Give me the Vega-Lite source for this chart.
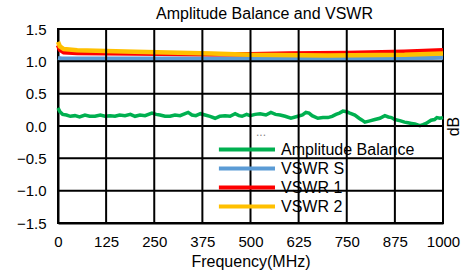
{
  "$schema": "https://vega.github.io/schema/vega-lite/v6.json",
  "width": 385,
  "height": 194,
  "autosize": {"type": "none"},
  "padding": {"left": 58, "top": 29, "right": 32, "bottom": 54},
  "background": "white",
  "config": {
    "font": "Liberation Sans",
    "view": {"stroke": "black", "strokeWidth": 2},
    "axis": {"domainColor": "black", "domainWidth": 2, "tickSize": 0, "labelFontSize": 15, "labelColor": "black", "titleFontSize": 16, "titleColor": "black", "titleFontWeight": "normal"}
  },
  "title": {"text": "Amplitude Balance and VSWR", "fontSize": 16, "fontWeight": "normal", "color": "black", "dx": 14, "offset": 0},
  "datasets": {
    "grid": [
      {"f": 125, "v": -1.5, "k": "x1"}, {"f": 125, "v": 1.5, "k": "x1"},
      {"f": 250, "v": -1.5, "k": "x2"}, {"f": 250, "v": 1.5, "k": "x2"},
      {"f": 375, "v": -1.5, "k": "x3"}, {"f": 375, "v": 1.5, "k": "x3"},
      {"f": 500, "v": -1.5, "k": "x4"}, {"f": 500, "v": 1.5, "k": "x4"},
      {"f": 625, "v": -1.5, "k": "x5"}, {"f": 625, "v": 1.5, "k": "x5"},
      {"f": 750, "v": -1.5, "k": "x6"}, {"f": 750, "v": 1.5, "k": "x6"},
      {"f": 875, "v": -1.5, "k": "x7"}, {"f": 875, "v": 1.5, "k": "x7"},
      {"f": 0, "v": -1, "k": "y1"}, {"f": 1000, "v": -1, "k": "y1"},
      {"f": 0, "v": -0.5, "k": "y2"}, {"f": 1000, "v": -0.5, "k": "y2"},
      {"f": 0, "v": 0, "k": "y3"}, {"f": 1000, "v": 0, "k": "y3"},
      {"f": 0, "v": 0.5, "k": "y4"}, {"f": 1000, "v": 0.5, "k": "y4"},
      {"f": 0, "v": 1, "k": "y5"}, {"f": 1000, "v": 1, "k": "y5"}
    ]
  },
  "data": {"values": [
    {"f": 0, "v": 0.28, "s": "Amplitude Balance"},
    {"f": 5, "v": 0.22, "s": "Amplitude Balance"},
    {"f": 12, "v": 0.18, "s": "Amplitude Balance"},
    {"f": 22, "v": 0.17, "s": "Amplitude Balance"},
    {"f": 32, "v": 0.15, "s": "Amplitude Balance"},
    {"f": 44, "v": 0.16, "s": "Amplitude Balance"},
    {"f": 56, "v": 0.14, "s": "Amplitude Balance"},
    {"f": 70, "v": 0.17, "s": "Amplitude Balance"},
    {"f": 82, "v": 0.15, "s": "Amplitude Balance"},
    {"f": 96, "v": 0.15, "s": "Amplitude Balance"},
    {"f": 110, "v": 0.17, "s": "Amplitude Balance"},
    {"f": 122, "v": 0.15, "s": "Amplitude Balance"},
    {"f": 135, "v": 0.16, "s": "Amplitude Balance"},
    {"f": 148, "v": 0.15, "s": "Amplitude Balance"},
    {"f": 160, "v": 0.17, "s": "Amplitude Balance"},
    {"f": 174, "v": 0.16, "s": "Amplitude Balance"},
    {"f": 188, "v": 0.18, "s": "Amplitude Balance"},
    {"f": 200, "v": 0.15, "s": "Amplitude Balance"},
    {"f": 213, "v": 0.17, "s": "Amplitude Balance"},
    {"f": 226, "v": 0.16, "s": "Amplitude Balance"},
    {"f": 244, "v": 0.2, "s": "Amplitude Balance"},
    {"f": 255, "v": 0.18, "s": "Amplitude Balance"},
    {"f": 265, "v": 0.17, "s": "Amplitude Balance"},
    {"f": 278, "v": 0.15, "s": "Amplitude Balance"},
    {"f": 291, "v": 0.15, "s": "Amplitude Balance"},
    {"f": 304, "v": 0.17, "s": "Amplitude Balance"},
    {"f": 317, "v": 0.16, "s": "Amplitude Balance"},
    {"f": 338, "v": 0.21, "s": "Amplitude Balance"},
    {"f": 348, "v": 0.17, "s": "Amplitude Balance"},
    {"f": 358, "v": 0.16, "s": "Amplitude Balance"},
    {"f": 370, "v": 0.19, "s": "Amplitude Balance"},
    {"f": 382, "v": 0.17, "s": "Amplitude Balance"},
    {"f": 395, "v": 0.15, "s": "Amplitude Balance"},
    {"f": 408, "v": 0.12, "s": "Amplitude Balance"},
    {"f": 420, "v": 0.15, "s": "Amplitude Balance"},
    {"f": 434, "v": 0.16, "s": "Amplitude Balance"},
    {"f": 447, "v": 0.15, "s": "Amplitude Balance"},
    {"f": 460, "v": 0.19, "s": "Amplitude Balance"},
    {"f": 470, "v": 0.16, "s": "Amplitude Balance"},
    {"f": 478, "v": 0.15, "s": "Amplitude Balance"},
    {"f": 490, "v": 0.18, "s": "Amplitude Balance"},
    {"f": 499, "v": 0.16, "s": "Amplitude Balance"},
    {"f": 512, "v": 0.18, "s": "Amplitude Balance"},
    {"f": 525, "v": 0.19, "s": "Amplitude Balance"},
    {"f": 540, "v": 0.17, "s": "Amplitude Balance"},
    {"f": 553, "v": 0.21, "s": "Amplitude Balance"},
    {"f": 565, "v": 0.18, "s": "Amplitude Balance"},
    {"f": 577, "v": 0.17, "s": "Amplitude Balance"},
    {"f": 590, "v": 0.15, "s": "Amplitude Balance"},
    {"f": 605, "v": 0.12, "s": "Amplitude Balance"},
    {"f": 623, "v": 0.15, "s": "Amplitude Balance"},
    {"f": 635, "v": 0.17, "s": "Amplitude Balance"},
    {"f": 644, "v": 0.21, "s": "Amplitude Balance"},
    {"f": 652, "v": 0.2, "s": "Amplitude Balance"},
    {"f": 660, "v": 0.16, "s": "Amplitude Balance"},
    {"f": 675, "v": 0.12, "s": "Amplitude Balance"},
    {"f": 688, "v": 0.13, "s": "Amplitude Balance"},
    {"f": 701, "v": 0.13, "s": "Amplitude Balance"},
    {"f": 712, "v": 0.15, "s": "Amplitude Balance"},
    {"f": 722, "v": 0.18, "s": "Amplitude Balance"},
    {"f": 731, "v": 0.2, "s": "Amplitude Balance"},
    {"f": 740, "v": 0.23, "s": "Amplitude Balance"},
    {"f": 750, "v": 0.22, "s": "Amplitude Balance"},
    {"f": 758, "v": 0.2, "s": "Amplitude Balance"},
    {"f": 771, "v": 0.17, "s": "Amplitude Balance"},
    {"f": 782, "v": 0.12, "s": "Amplitude Balance"},
    {"f": 790, "v": 0.09, "s": "Amplitude Balance"},
    {"f": 797, "v": 0.06, "s": "Amplitude Balance"},
    {"f": 810, "v": 0.08, "s": "Amplitude Balance"},
    {"f": 823, "v": 0.1, "s": "Amplitude Balance"},
    {"f": 836, "v": 0.12, "s": "Amplitude Balance"},
    {"f": 849, "v": 0.16, "s": "Amplitude Balance"},
    {"f": 858, "v": 0.14, "s": "Amplitude Balance"},
    {"f": 866, "v": 0.13, "s": "Amplitude Balance"},
    {"f": 875, "v": 0.1, "s": "Amplitude Balance"},
    {"f": 890, "v": 0.08, "s": "Amplitude Balance"},
    {"f": 900, "v": 0.06, "s": "Amplitude Balance"},
    {"f": 909, "v": 0.05, "s": "Amplitude Balance"},
    {"f": 918, "v": 0.04, "s": "Amplitude Balance"},
    {"f": 927, "v": 0.03, "s": "Amplitude Balance"},
    {"f": 940, "v": 0.005, "s": "Amplitude Balance"},
    {"f": 948, "v": 0.02, "s": "Amplitude Balance"},
    {"f": 956, "v": 0.04, "s": "Amplitude Balance"},
    {"f": 969, "v": 0.09, "s": "Amplitude Balance"},
    {"f": 978, "v": 0.1, "s": "Amplitude Balance"},
    {"f": 984, "v": 0.13, "s": "Amplitude Balance"},
    {"f": 992, "v": 0.12, "s": "Amplitude Balance"},
    {"f": 1000, "v": 0.13, "s": "Amplitude Balance"},
    {"f": 0, "v": 1.05, "s": "VSWR S"},
    {"f": 10, "v": 1.04, "s": "VSWR S"},
    {"f": 100, "v": 1.04, "s": "VSWR S"},
    {"f": 300, "v": 1.04, "s": "VSWR S"},
    {"f": 500, "v": 1.04, "s": "VSWR S"},
    {"f": 700, "v": 1.04, "s": "VSWR S"},
    {"f": 850, "v": 1.04, "s": "VSWR S"},
    {"f": 1000, "v": 1.06, "s": "VSWR S"},
    {"f": 0, "v": 1.25, "s": "VSWR 1"},
    {"f": 5, "v": 1.18, "s": "VSWR 1"},
    {"f": 15, "v": 1.14, "s": "VSWR 1"},
    {"f": 50, "v": 1.13, "s": "VSWR 1"},
    {"f": 200, "v": 1.12, "s": "VSWR 1"},
    {"f": 400, "v": 1.11, "s": "VSWR 1"},
    {"f": 500, "v": 1.11, "s": "VSWR 1"},
    {"f": 600, "v": 1.12, "s": "VSWR 1"},
    {"f": 750, "v": 1.13, "s": "VSWR 1"},
    {"f": 900, "v": 1.15, "s": "VSWR 1"},
    {"f": 1000, "v": 1.17, "s": "VSWR 1"},
    {"f": 0, "v": 1.3, "s": "VSWR 2"},
    {"f": 5, "v": 1.23, "s": "VSWR 2"},
    {"f": 15, "v": 1.19, "s": "VSWR 2"},
    {"f": 50, "v": 1.17, "s": "VSWR 2"},
    {"f": 200, "v": 1.15, "s": "VSWR 2"},
    {"f": 400, "v": 1.12, "s": "VSWR 2"},
    {"f": 500, "v": 1.1, "s": "VSWR 2"},
    {"f": 700, "v": 1.09, "s": "VSWR 2"},
    {"f": 900, "v": 1.1, "s": "VSWR 2"},
    {"f": 1000, "v": 1.12, "s": "VSWR 2"}
  ]},
  "layer": [
    {
      "transform": [{"filter": "datum.s == 'Amplitude Balance'"}],
      "mark": {"type": "line", "strokeWidth": 3.5},
      "encoding": {
        "x": {"field": "f", "type": "quantitative", "scale": {"domain": [0, 1000], "nice": false},
          "axis": {"values": [0, 125, 250, 375, 500, 625, 750, 875, 1000], "format": "d", "grid": false, "title": "Frequency(MHz)", "labelPadding": 11, "titlePadding": 4, "labelFlush": false}},
        "y": {"field": "v", "type": "quantitative", "scale": {"domain": [-1.5, 1.5], "nice": false},
          "axis": {"values": [-1.5, -1, -0.5, 0, 0.5, 1, 1.5], "format": ".1f", "title": "dB", "labelPadding": 12, "titlePadding": 18, "grid": false}},
        "color": {"field": "s", "type": "nominal",
          "scale": {"domain": ["Amplitude Balance", "VSWR S", "VSWR 1", "VSWR 2"], "range": ["#00B050", "#5B9BD5", "#FF0000", "#FFC000"]},
          "legend": {"title": "...", "titleColor": "#888888", "titleFontSize": 12, "titleFontWeight": "normal", "titlePadding": 0, "orient": "none", "legendX": 198, "legendY": 98, "symbolType": "M-5.6,0H1", "symbolSize": 289, "symbolStrokeWidth": 4, "labelFontSize": 16, "labelColor": "black", "labelOffset": 4, "rowPadding": 0, "labelLimit": 300}}
      }
    },
    {
      "transform": [{"filter": "datum.s != 'Amplitude Balance'"}],
      "mark": {"type": "line", "strokeWidth": 4.5},
      "encoding": {
        "x": {"field": "f", "type": "quantitative", "scale": {"domain": [0, 1000], "nice": false},
          "axis": {"values": [0, 125, 250, 375, 500, 625, 750, 875, 1000], "format": "d", "grid": false, "title": "Frequency(MHz)", "labelPadding": 11, "titlePadding": 4, "labelFlush": false}},
        "y": {"field": "v", "type": "quantitative",
          "axis": {"orient": "right", "labels": false, "domain": false, "grid": false, "title": "dB", "titleAngle": 270, "titlePadding": 18}},
        "color": {"field": "s", "type": "nominal"}
      }
    },
    {
      "data": {"name": "grid"},
      "mark": {"type": "line", "stroke": "black", "strokeWidth": 2},
      "encoding": {
        "x": {"field": "f", "type": "quantitative", "scale": {"domain": [0, 1000], "nice": false},
          "axis": {"values": [0, 125, 250, 375, 500, 625, 750, 875, 1000], "format": "d", "grid": false, "title": "Frequency(MHz)", "labelPadding": 11, "titlePadding": 4, "labelFlush": false}},
        "y": {"field": "v", "type": "quantitative", "scale": {"domain": [-1.5, 1.5], "nice": false}, "axis": null},
        "detail": {"field": "k", "type": "nominal"}
      }
    }
  ],
  "resolve": {"axis": {"y": "independent"}}
}
